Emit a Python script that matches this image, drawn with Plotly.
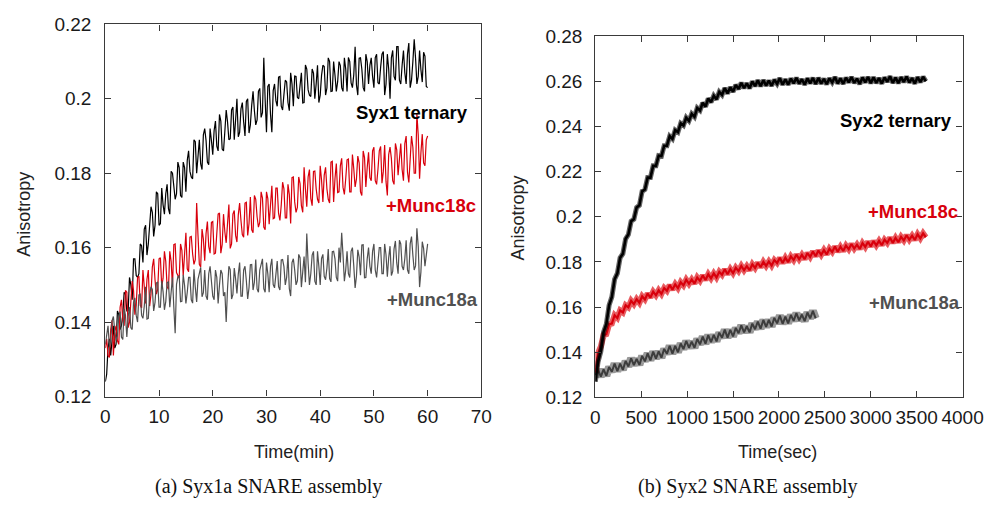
import plotly.graph_objects as go

# ---------------- Panel (a): Syx1a SNARE assembly (time in minutes) ----------------
dt_min = 0.25
syx1_ternary = [
    0.124, 0.126, 0.133, 0.1355, 0.131, 0.136, 0.139, 0.133, 0.134, 0.143,
    0.142, 0.138, 0.139, 0.142, 0.148, 0.1475, 0.143, 0.143, 0.152, 0.150,
    0.146, 0.157, 0.157, 0.1525, 0.152, 0.153, 0.161, 0.1605, 0.156, 0.165,
    0.166, 0.158, 0.161, 0.166, 0.171, 0.1695, 0.163, 0.166, 0.175, 0.1745,
    0.166, 0.1665, 0.176, 0.1715, 0.169, 0.1745, 0.177, 0.1705, 0.169, 0.1805,
    0.180, 0.1765, 0.173, 0.1745, 0.183, 0.1815, 0.174, 0.1735, 0.183, 0.1815,
    0.175, 0.1835, 0.186, 0.1805, 0.179, 0.1785, 0.189, 0.1885, 0.180, 0.1845,
    0.189, 0.1825, 0.181, 0.1903, 0.192, 0.1888, 0.183, 0.1823, 0.192, 0.1888,
    0.185, 0.1915, 0.194, 0.1873, 0.186, 0.1958, 0.194, 0.1865, 0.186, 0.1913,
    0.197, 0.1938, 0.189, 0.1893, 0.197, 0.1978, 0.189, 0.1943, 0.200, 0.1898,
    0.191, 0.1973, 0.199, 0.1938, 0.190, 0.1993, 0.200, 0.1908, 0.193, 0.1983,
    0.202, 0.1968, 0.193, 0.1943, 0.202, 0.2028, 0.195, 0.1963, 0.211, 0.1998,
    0.191, 0.2033, 0.204, 0.1958, 0.191, 0.2022, 0.204, 0.1995, 0.198, 0.2058,
    0.206, 0.198, 0.197, 0.2012, 0.205, 0.2045, 0.199, 0.1968, 0.207, 0.204,
    0.198, 0.2061, 0.206, 0.2004, 0.200, 0.2036, 0.207, 0.1989, 0.199, 0.2091,
    0.208, 0.2024, 0.201, 0.2006, 0.208, 0.2069, 0.200, 0.204, 0.209, 0.199,
    0.201, 0.2063, 0.209, 0.2087, 0.201, 0.2029, 0.211, 0.210, 0.202, 0.2021,
    0.210, 0.2064, 0.202, 0.2046, 0.210, 0.2089, 0.203, 0.202, 0.211, 0.208,
    0.202, 0.2111, 0.210, 0.2043, 0.203, 0.2065, 0.214, 0.2037, 0.201, 0.2109,
    0.211, 0.208, 0.203, 0.202, 0.212, 0.210, 0.204, 0.209, 0.211, 0.206,
    0.203, 0.2111, 0.212, 0.2043, 0.204, 0.2085, 0.212, 0.2127, 0.201, 0.2039,
    0.212, 0.208, 0.200, 0.211, 0.213, 0.206, 0.205, 0.214, 0.214, 0.205,
    0.204, 0.209, 0.213, 0.207, 0.204, 0.212, 0.215, 0.203, 0.205, 0.210,
    0.216, 0.211, 0.204, 0.206, 0.213, 0.2078, 0.2045, 0.2125, 0.2115, 0.2033,
    0.203,
]
syx1_munc18c = [
    0.133, 0.1355, 0.131, 0.1305, 0.138, 0.1405, 0.131, 0.1375, 0.139, 0.135,
    0.134, 0.144, 0.146, 0.1405, 0.139, 0.1485, 0.148, 0.1385, 0.140, 0.1445,
    0.151, 0.1485, 0.142, 0.1445, 0.152, 0.1523, 0.1445, 0.1438, 0.154, 0.1495,
    0.145, 0.1515, 0.154, 0.1443, 0.1475, 0.1548, 0.157, 0.1513, 0.1475, 0.1488,
    0.157, 0.1573, 0.1495, 0.1518, 0.159, 0.1563, 0.1495, 0.1488, 0.159, 0.1563,
    0.1495, 0.1608, 0.161, 0.1533, 0.1525, 0.1518, 0.161, 0.1593, 0.1525, 0.1578,
    0.164, 0.1543, 0.1535, 0.1628, 0.163, 0.1583, 0.1555, 0.1568, 0.172, 0.1633,
    0.1555, 0.1548, 0.165, 0.1623, 0.1565, 0.1638, 0.167, 0.1603, 0.1585, 0.1668,
    0.167, 0.1583, 0.1585, 0.1638, 0.169, 0.1693, 0.1585, 0.1608, 0.169, 0.1642,
    0.1613, 0.1665, 0.1716, 0.1598, 0.161, 0.169, 0.170, 0.1633, 0.1615, 0.1688,
    0.172, 0.1673, 0.1635, 0.1628, 0.172, 0.1722, 0.1633, 0.1665, 0.1736, 0.1648,
    0.164, 0.174, 0.173, 0.1683, 0.1655, 0.1668, 0.175, 0.1733, 0.1655, 0.1648,
    0.175, 0.1732, 0.1663, 0.1715, 0.1766, 0.1678, 0.168, 0.176, 0.176, 0.1692,
    0.1673, 0.1715, 0.1776, 0.1758, 0.168, 0.168, 0.177, 0.1743, 0.1665, 0.1788,
    0.179, 0.1723, 0.1695, 0.1708, 0.179, 0.1772, 0.1713, 0.1695, 0.1816, 0.1758,
    0.171, 0.179, 0.181, 0.1732, 0.1713, 0.1805, 0.1806, 0.1758, 0.173, 0.172,
    0.182, 0.1782, 0.1723, 0.1795, 0.1816, 0.1758, 0.173, 0.172, 0.183, 0.1832,
    0.1723, 0.1785, 0.1826, 0.1748, 0.175, 0.182, 0.184, 0.1762, 0.1743, 0.1785,
    0.1836, 0.1838, 0.175, 0.175, 0.185, 0.1812, 0.1763, 0.1785, 0.1846, 0.1828,
    0.175, 0.174, 0.186, 0.1842, 0.1763, 0.1815, 0.1856, 0.1788, 0.178, 0.186,
    0.187, 0.178, 0.177, 0.181, 0.186, 0.1872, 0.1773, 0.1805, 0.1876, 0.1778,
    0.174, 0.185, 0.187, 0.184, 0.178, 0.177, 0.188, 0.1863, 0.1795, 0.1838,
    0.188, 0.181, 0.178, 0.188, 0.190, 0.1803, 0.1775, 0.1838, 0.190, 0.187,
    0.180, 0.180, 0.196, 0.1903, 0.1785, 0.1855, 0.1905, 0.1828, 0.182, 0.189,
    0.190,
]
syx1_munc18a = [
    0.134, 0.136, 0.139, 0.1335, 0.135, 0.1403, 0.1415, 0.1378, 0.135, 0.1363,
    0.1415, 0.1428, 0.136, 0.1353, 0.1435, 0.1418, 0.136, 0.1415, 0.144, 0.1385,
    0.138, 0.1453, 0.1465, 0.1418, 0.140, 0.1473, 0.1475, 0.1418, 0.141, 0.1443,
    0.1495, 0.1408, 0.141, 0.1473, 0.1495, 0.1488, 0.143, 0.1453, 0.1505, 0.1508,
    0.144, 0.144, 0.151, 0.1482, 0.1433, 0.1455, 0.1506, 0.1508, 0.144, 0.148,
    0.152, 0.144, 0.137, 0.1501, 0.1522, 0.1524, 0.1455, 0.1456, 0.1527, 0.1499,
    0.145, 0.148, 0.152, 0.152, 0.146, 0.1451, 0.1542, 0.1493, 0.1454, 0.1515,
    0.1536, 0.1547, 0.1468, 0.1479, 0.154, 0.147, 0.146, 0.153, 0.155, 0.151,
    0.147, 0.146, 0.154, 0.152, 0.145, 0.150, 0.154, 0.153, 0.147, 0.148,
    0.140, 0.149, 0.155, 0.1541, 0.1462, 0.1474, 0.1545, 0.1516, 0.1477, 0.1529,
    0.156, 0.147, 0.147, 0.154, 0.155, 0.1511, 0.1462, 0.1493, 0.1554, 0.1555,
    0.1486, 0.1507, 0.1568, 0.1489, 0.148, 0.154, 0.156, 0.157, 0.149, 0.148,
    0.156, 0.153, 0.148, 0.155, 0.157, 0.1501, 0.1492, 0.1523, 0.1564, 0.1495,
    0.1486, 0.1567, 0.1568, 0.1549, 0.150, 0.152, 0.158, 0.149, 0.147, 0.156,
    0.157, 0.154, 0.150, 0.1511, 0.1582, 0.1573, 0.1494, 0.1535, 0.1576, 0.1507,
    0.1638, 0.1559, 0.150, 0.153, 0.158, 0.159, 0.151, 0.150, 0.159, 0.155,
    0.150, 0.1571, 0.1582, 0.1523, 0.1514, 0.1545, 0.1596, 0.1517, 0.1508, 0.1589,
    0.159, 0.157, 0.152, 0.151, 0.160, 0.156, 0.164, 0.158, 0.151, 0.154,
    0.159, 0.153, 0.152, 0.159, 0.160, 0.1551, 0.1492, 0.1523, 0.1594, 0.1575,
    0.1526, 0.1607, 0.1608, 0.1519, 0.152, 0.157, 0.160, 0.155, 0.153, 0.159,
    0.161, 0.154, 0.152, 0.156, 0.160, 0.160, 0.153, 0.153, 0.161, 0.1581,
    0.1522, 0.1573, 0.1604, 0.1525, 0.1536, 0.1597, 0.1618, 0.1559, 0.153, 0.162,
    0.161, 0.155, 0.154, 0.157, 0.162, 0.154, 0.153, 0.161, 0.163, 0.158,
    0.154, 0.1551, 0.1652, 0.1603, 0.1494, 0.1535, 0.1616, 0.1598, 0.155, 0.158,
    0.161,
]

# ---------------- Panel (b): Syx2 SNARE assembly (time in seconds) ----------------
dt_sec = 30
syx2_ternary = [
    0.1270, 0.1358, 0.1403, 0.1489, 0.1525, 0.1608, 0.1645, 0.1723, 0.1749, 0.1818,
    0.1836, 0.1902, 0.1921, 0.1980, 0.1989, 0.2041, 0.2050, 0.2112, 0.2120, 0.2173,
    0.2173, 0.2225, 0.2225, 0.2270, 0.2268, 0.2314, 0.2314, 0.2356, 0.2344, 0.2383,
    0.2374, 0.2413, 0.2404, 0.2438, 0.2424, 0.2455, 0.2442, 0.2481, 0.2470, 0.2504,
    0.2487, 0.2523, 0.2506, 0.2535, 0.2519, 0.2552, 0.2539, 0.2569, 0.2545, 0.2573,
    0.2553, 0.2583, 0.2565, 0.2592, 0.2569, 0.2590, 0.2568, 0.2598, 0.2578, 0.2603,
    0.2577, 0.2604, 0.2580, 0.2602, 0.2579, 0.2606, 0.2588, 0.2613, 0.2584, 0.2608,
    0.2584, 0.2611, 0.2590, 0.2614, 0.2589, 0.2608, 0.2584, 0.2612, 0.2590, 0.2614,
    0.2587, 0.2614, 0.2589, 0.2610, 0.2586, 0.2612, 0.2594, 0.2618, 0.2589, 0.2612,
    0.2588, 0.2615, 0.2594, 0.2618, 0.2592, 0.2611, 0.2587, 0.2616, 0.2594, 0.2618,
    0.2591, 0.2617, 0.2592, 0.2613, 0.2589, 0.2616, 0.2597, 0.2621, 0.2592, 0.2615,
    0.2591, 0.2617, 0.2596, 0.2620, 0.2594, 0.2613, 0.2589, 0.2617, 0.2595, 0.2619,
    0.2599,
]
syx2_munc18c = [
    0.1310, 0.1396, 0.1425, 0.1476, 0.1480, 0.1524, 0.1527, 0.1564, 0.1552, 0.1585,
    0.1576, 0.1608, 0.1599, 0.1628, 0.1613, 0.1635, 0.1619, 0.1648, 0.1634, 0.1660,
    0.1642, 0.1668, 0.1652, 0.1674, 0.1658, 0.1684, 0.1672, 0.1698, 0.1677, 0.1701,
    0.1684, 0.1710, 0.1696, 0.1721, 0.1703, 0.1722, 0.1704, 0.1731, 0.1716, 0.1740,
    0.1720, 0.1745, 0.1727, 0.1749, 0.1731, 0.1756, 0.1743, 0.1767, 0.1745, 0.1768,
    0.1750, 0.1774, 0.1759, 0.1782, 0.1763, 0.1781, 0.1763, 0.1789, 0.1773, 0.1796,
    0.1776, 0.1800, 0.1782, 0.1802, 0.1784, 0.1808, 0.1795, 0.1818, 0.1795, 0.1818,
    0.1799, 0.1824, 0.1808, 0.1832, 0.1812, 0.1831, 0.1812, 0.1839, 0.1822, 0.1846,
    0.1825, 0.1850, 0.1831, 0.1852, 0.1833, 0.1858, 0.1844, 0.1868, 0.1845, 0.1867,
    0.1848, 0.1872, 0.1856, 0.1879, 0.1859, 0.1876, 0.1857, 0.1883, 0.1866, 0.1889,
    0.1868, 0.1892, 0.1873, 0.1893, 0.1874, 0.1898, 0.1884, 0.1907, 0.1884, 0.1906,
    0.1887, 0.1911, 0.1895, 0.1918, 0.1898, 0.1916, 0.1897, 0.1922, 0.1904, 0.1926,
    0.1909,
]
syx2_munc18a = [
    0.1300, 0.1322, 0.1292, 0.1324, 0.1296, 0.1335, 0.1314, 0.1350, 0.1316, 0.1350,
    0.1322, 0.1361, 0.1337, 0.1373, 0.1343, 0.1371, 0.1344, 0.1384, 0.1360, 0.1395,
    0.1364, 0.1403, 0.1372, 0.1404, 0.1376, 0.1415, 0.1393, 0.1428, 0.1394, 0.1428,
    0.1400, 0.1439, 0.1414, 0.1450, 0.1420, 0.1447, 0.1420, 0.1459, 0.1435, 0.1469,
    0.1438, 0.1476, 0.1445, 0.1477, 0.1448, 0.1487, 0.1464, 0.1500, 0.1465, 0.1499,
    0.1470, 0.1508, 0.1484, 0.1519, 0.1488, 0.1515, 0.1488, 0.1527, 0.1502, 0.1536,
    0.1504, 0.1543, 0.1512, 0.1543, 0.1514, 0.1552, 0.1528, 0.1562, 0.1526, 0.1558,
    0.1528, 0.1565, 0.1539, 0.1573, 0.1541, 0.1567, 0.1538, 0.1576, 0.1550, 0.1583,
    0.1550,
]

y_ticks_a = [0.12, 0.14, 0.16, 0.18, 0.20, 0.22]
y_ticktext_a = ["0.12", "0.14", "0.16", "0.18", "0.2", "0.22"]
y_ticks_b = [0.12, 0.14, 0.16, 0.18, 0.20, 0.22, 0.24, 0.26, 0.28]
y_ticktext_b = ["0.12", "0.14", "0.16", "0.18", "0.2", "0.22", "0.24", "0.26", "0.28"]
x_ticks_a = [0, 10, 20, 30, 40, 50, 60, 70]
x_ticks_b = [0, 500, 1000, 1500, 2000, 2500, 3000, 3500, 4000]

t_a = [i * dt_min for i in range(len(syx1_ternary))]
t_b_black = [i * dt_sec for i in range(len(syx2_ternary))]
t_b_red = [i * dt_sec for i in range(len(syx2_munc18c))]
t_b_gray = [i * dt_sec for i in range(len(syx2_munc18a))]

BLACK = "#000000"
RED = "#d8000c"
GRAY = "#505050"

fig = go.Figure()
# Panel a
fig.add_trace(go.Scatter(x=t_a, y=syx1_ternary, mode="lines", line=dict(color=BLACK, width=1.2),
                         xaxis="x", yaxis="y", showlegend=False))
fig.add_trace(go.Scatter(x=t_a, y=syx1_munc18c, mode="lines", line=dict(color=RED, width=1.2),
                         xaxis="x", yaxis="y", showlegend=False))
fig.add_trace(go.Scatter(x=t_a, y=syx1_munc18a, mode="lines", line=dict(color=GRAY, width=1.2),
                         xaxis="x", yaxis="y", showlegend=False))

# Panel b: each trace = soft wide band + thin noisy core (fuzzy look of the original)
def band(x, y, halo_color, halo_w, core_color, core_w):
    fig.add_trace(go.Scatter(x=x, y=y, mode="lines", line=dict(color=halo_color, width=halo_w),
                             xaxis="x2", yaxis="y2", showlegend=False))
    fig.add_trace(go.Scatter(x=x, y=y, mode="lines", line=dict(color=core_color, width=core_w),
                             xaxis="x2", yaxis="y2", showlegend=False))

band(t_b_gray, syx2_munc18a, "rgba(85,85,85,0.6)", 8, "rgba(50,50,50,0.9)", 2.0)
band(t_b_red, syx2_munc18c, "rgba(220,5,12,0.65)", 6, RED, 2.2)
band(t_b_black, syx2_ternary, "rgba(0,0,0,0.6)", 5, BLACK, 2.6)

W, H = 1005, 513
TICKFONT = dict(family="Liberation Sans, Arial, sans-serif", size=19, color="#1a1a1a")
axis_common = dict(showline=True, linecolor="#3a3a3a", linewidth=1.3, mirror="ticks",
                   ticks="inside", ticklen=6, tickwidth=1.2, tickcolor="#3a3a3a",
                   showgrid=False, zeroline=False, tickfont=TICKFONT, fixedrange=True)

fig.update_layout(
    width=W, height=H,
    margin=dict(l=0, r=0, t=0, b=0),
    paper_bgcolor="white", plot_bgcolor="white",
    hovermode=False,
    xaxis=dict(domain=[103 / W, 489 / W], range=[0, 70], tickvals=x_ticks_a,
               anchor="y", ticklabelstandoff=3, **axis_common),
    yaxis=dict(domain=[(H - 403) / H, (H - 15) / H], range=[0.12, 0.22],
               tickvals=y_ticks_a, ticktext=y_ticktext_a, anchor="x",
               ticklabelstandoff=9, **axis_common),
    xaxis2=dict(domain=[606 / W, 983 / W], range=[0, 4000], tickvals=x_ticks_b,
                anchor="y2", ticklabelstandoff=3, **axis_common),
    yaxis2=dict(domain=[(H - 404) / H, (H - 27) / H], range=[0.12, 0.28],
                tickvals=y_ticks_b, ticktext=y_ticktext_b, anchor="x2",
                ticklabelstandoff=8, **axis_common),
)

LAB = "Liberation Sans, Arial, sans-serif"
def px_ann(text, x, y, size, color="#222222", bold=False, angle=0, family=LAB):
    fig.add_annotation(
        text=f"<b>{text}</b>" if bold else text,
        x=x / W, y=1 - y / H, xref="paper", yref="paper",
        xanchor="center", yanchor="middle", showarrow=False, textangle=angle,
        font=dict(family=family, size=size, color=color))

# axis titles
px_ann("Anisotropy", 20, 213, 18, angle=-90)
px_ann("Anisotropy", 527, 217, 18, angle=-90)
px_ann("Time(min)", 297, 461, 18)
px_ann("Time(sec)", 793, 461, 18)

# series labels
px_ann("Syx1 ternary", 418, 107, 18.5, color=BLACK, bold=True)
px_ann("+Munc18c", 437, 204, 18.5, color=RED, bold=True)
px_ann("+Munc18a", 439, 302, 18.5, color=GRAY, bold=True)
px_ann("Syx2 ternary", 915, 115, 18.5, color=BLACK, bold=True)
px_ann("+Munc18c", 932, 210, 18.5, color=RED, bold=True)
px_ann("+Munc18a", 934, 305, 18.5, color=GRAY, bold=True)

# captions
SERIF = "Liberation Serif, DejaVu Serif, serif"
px_ann("(a) Syx1a SNARE assembly", 270, 497, 20, color="#111111", family=SERIF)
px_ann("(b) Syx2 SNARE assembly", 762, 497, 20, color="#111111", family=SERIF)

fig.write_html("out.html")
